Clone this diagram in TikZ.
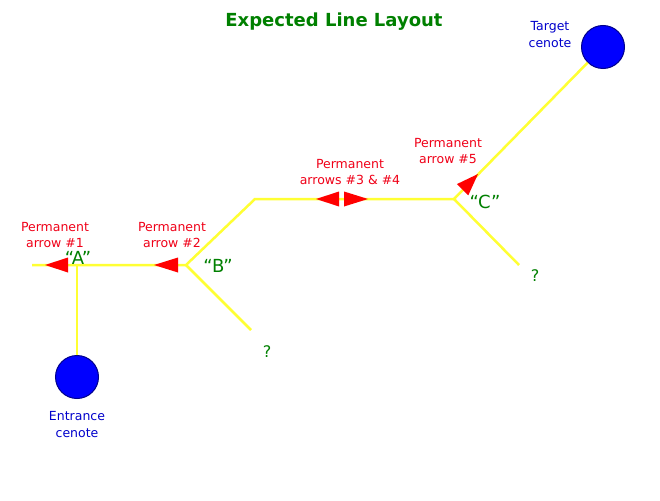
\documentclass[tikz,border=0pt]{standalone}
\usepackage{fontspec}
\setmainfont{DejaVu Sans}
\definecolor{lineyellow}{HTML}{FFFF33}
\definecolor{arrred}{HTML}{FF0000}
\definecolor{labred}{HTML}{F00018}
\definecolor{labgreen}{HTML}{008000}
\definecolor{cenoteblue}{HTML}{0000FF}
\definecolor{cenoteedge}{HTML}{00008B}
\definecolor{textblue}{HTML}{0000CC}
\begin{document}
\begin{tikzpicture}[x=1pt,y=-1pt,
  guide/.style={draw=lineyellow,line width=2.5pt},
  arrowtri/.style={fill=arrred},
  cenote/.style={circle,fill=cenoteblue,draw=cenoteedge,line width=1pt,minimum size=43pt,inner sep=0pt},
  redlabel/.style={text=labred,align=center,font=\fontsize{12.5}{16}\selectfont,inner sep=0pt},
  bluelabel/.style={text=textblue,align=center,font=\fontsize{12.5}{17}\selectfont,inner sep=0pt},
  junclabel/.style={text=labgreen,font=\fontsize{18}{20}\selectfont,inner sep=0pt},
  qlabel/.style={text=labgreen,font=\fontsize{16}{18}\selectfont,inner sep=0pt}]
\useasboundingbox[fill=white] (0,0) rectangle (660,500);

\node[text=labgreen,font=\bfseries\fontsize{18}{20}\selectfont] (title) at (334,22) {Expected Line Layout};

\node[cenote] (ent) at (77,377) {};
\node[cenote] (tgt) at (603,47) {};

\coordinate (lend) at (32,265);
\coordinate (A) at (77,265);
\coordinate (B) at (186,265);
\coordinate (bend) at (255,199);
\coordinate (C) at (454,199);
\coordinate (bqe) at (251,330);
\coordinate (cqe) at (519,265);

\draw[guide] (lend) -- (A) -- (B) -- (bend) -- (C);
\draw[guide] (C) -- (tgt);
\draw[guide] (A) -- (ent);
\draw[guide] (B) -- (bqe);
\draw[guide] (C) -- (cqe);

% permanent arrows
\fill[arrowtri] (45,265) -- (68,257.5) -- (68,272.5) -- cycle;
\fill[arrowtri] (154,265) -- (178,257.5) -- (178,272.5) -- cycle;
\fill[arrowtri] (316,199) -- (339,191.5) -- (339,206.5) -- cycle;
\fill[arrowtri] (368,199) -- (344,191.5) -- (344,206.5) -- cycle;
\fill[arrowtri] (478,174) -- (456.9,184.1) -- (468.3,195.3) -- cycle;

\node[redlabel] (lab1) at (55,235) {Permanent\\arrow \#1};
\node[redlabel] (lab2) at (172,235) {Permanent\\arrow \#2};
\node[redlabel] (lab34) at (350,172) {Permanent\\arrows \#3 \& \#4};
\node[redlabel] (lab5) at (448,151) {Permanent\\arrow \#5};

\node[bluelabel] (tgtlab) at (550,35) {Target\\cenote};
\node[bluelabel] (entlab) at (77,425) {Entrance\\cenote};

\node[junclabel] (Alab) at (78,258) {“A”};
\node[junclabel] (Blab) at (218,266) {“B”};
\node[junclabel] (Clab) at (485,202) {“C”};

\node[qlabel] (q1) at (267,352) {?};
\node[qlabel] (q2) at (535,276) {?};
\end{tikzpicture}
\end{document}
